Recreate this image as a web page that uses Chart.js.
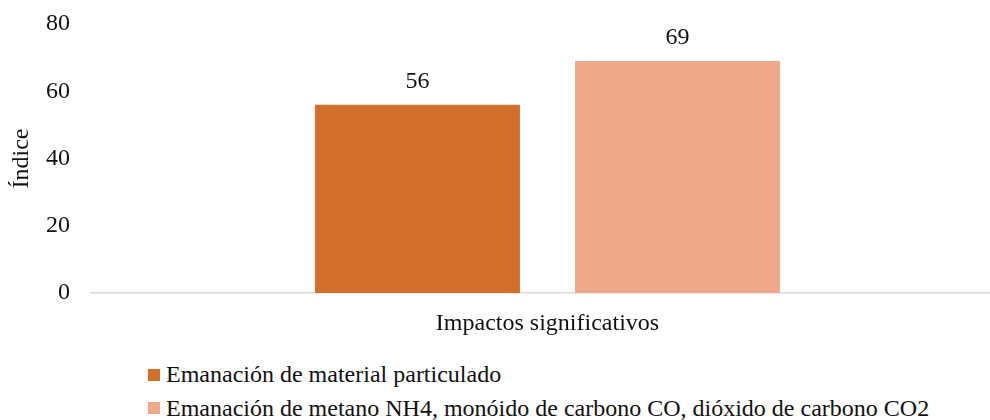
<!DOCTYPE html>
<html>
<head>
<meta charset="utf-8">
<script src="https://cdn.jsdelivr.net/npm/chart.js@4/dist/chart.umd.min.js"></script>
<style>
  html, body { margin: 0; padding: 0; background: #fff; overflow: hidden; width: 990px; height: 420px; }
  #wrap { position: relative; width: 1004px; height: 345px; }
  #legend { position: absolute; left: 148px; top: 358px; font-family: "Liberation Serif", "Times New Roman", serif; font-size: 24px; color: #111; }
  .row { display: flex; align-items: center; height: 33.5px; white-space: nowrap; }
  .sw { width: 12px; height: 12px; margin-right: 6px; flex: none; }
</style>
</head>
<body>
<div id="wrap"><canvas id="c"></canvas></div>
<div id="legend"></div>
<script>
const categories = ["Impactos significativos"];
const seriesNames = [
  "Emanación de material particulado",
  "Emanación de metano NH4, monóido de carbono CO, dióxido de carbono CO2"
];
const particulado = [56];
const gases = [69];
const seriesColors = ["#D26F2C", "#F0A88A"];
const yTicks = [0, 20, 40, 60, 80];

const FONT = "'Liberation Serif', 'Times New Roman', serif";

// Writes each bar's value just above it
const valueLabels = {
  id: 'valueLabels',
  afterDatasetsDraw(chart) {
    const ctx = chart.ctx;
    ctx.save();
    ctx.font = "24px " + FONT;
    ctx.fillStyle = "#111";
    ctx.textAlign = "center";
    ctx.textBaseline = "alphabetic";
    chart.data.datasets.forEach((ds, i) => {
      chart.getDatasetMeta(i).data.forEach((bar, j) => {
        ctx.fillText(String(ds.data[j]), bar.x, bar.y - 16.5);
      });
    });
    ctx.restore();
  }
};

function build() {
  const chart = new Chart(document.getElementById('c'), {
    type: 'bar',
    data: {
      labels: categories,
      datasets: [
        { label: seriesNames[0], data: particulado, backgroundColor: seriesColors[0] },
        { label: seriesNames[1], data: gases, backgroundColor: seriesColors[1] }
      ]
    },
    options: {
      responsive: true,
      maintainAspectRatio: false,
      animation: false,
      layout: { padding: { top: 24, right: 0, bottom: 0, left: 0 } },
      categoryPercentage: 0.5695,
      barPercentage: 0.788,
      plugins: { legend: { display: false }, tooltip: { enabled: false } },
      scales: {
        x: {
          grid: { display: false, drawTicks: false },
          border: { display: true, color: '#d9d9d9', width: 1.5 },
          ticks: { color: '#111', font: { family: FONT, size: 24 }, padding: 16 },
          afterFit(scale) { scale.height = 52; }
        },
        y: {
          min: 0,
          max: 80,
          afterBuildTicks(scale) { scale.ticks = yTicks.map(v => ({ value: v })); },
          grid: { display: false, drawTicks: false },
          border: { display: false },
          ticks: { color: '#111', font: { family: FONT, size: 24 }, padding: 21 },
          title: {
            display: true,
            text: 'Índice',
            color: '#111',
            font: { family: FONT, size: 24 },
            padding: { top: 7, bottom: 0 }
          },
          afterFit(scale) {
            scale.width = 91;
            scale.paddingTop = 0;
            scale.paddingBottom = 0;
          }
        }
      }
    },
    plugins: [valueLabels]
  });

  // Legend, one series per row
  const legend = document.getElementById('legend');
  chart.data.datasets.forEach(ds => {
    const row = document.createElement('div');
    row.className = 'row';
    const sw = document.createElement('span');
    sw.className = 'sw';
    sw.style.background = ds.backgroundColor;
    const txt = document.createElement('span');
    txt.textContent = ds.label;
    row.appendChild(sw);
    row.appendChild(txt);
    legend.appendChild(row);
  });
}

document.fonts.load("24px 'Liberation Serif'").then(build, build);
</script>
</body>
</html>
